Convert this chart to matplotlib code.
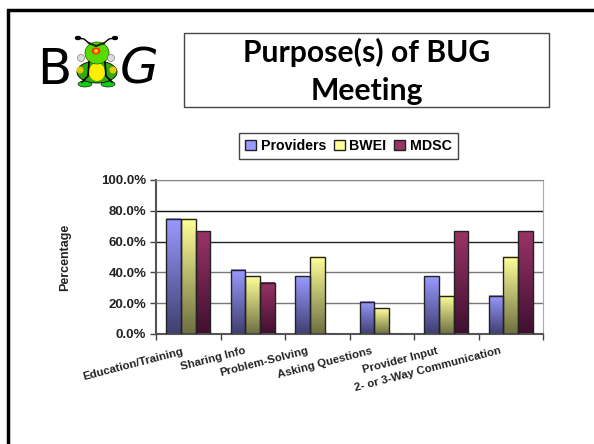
import matplotlib
matplotlib.use('Agg')
import matplotlib.pyplot as plt
import numpy as np
from matplotlib.colors import LinearSegmentedColormap
from matplotlib.patches import Rectangle, Ellipse, Circle

categories = ['Education/Training', 'Sharing Info', 'Problem-Solving', 'Asking Questions',
              'Provider Input', '2- or 3-Way Communication']
providers = [75.0, 41.7, 37.5, 20.8, 37.5, 25.0]
bwei = [75.0, 37.5, 50.0, 16.7, 25.0, 50.0]
mdsc = [66.7, 33.3, 0, 0, 66.7, 66.7]
series_names = ['Providers', 'BWEI', 'MDSC']

W, H = 594, 444
fig = plt.figure(figsize=(W/100, H/100), dpi=100)
plt.rcParams['font.family'] = ['Liberation Sans', 'DejaVu Sans']

# whole-picture axes in pixels, for the slide furniture
bg = fig.add_axes([0, 0, 1, 1])
bg.set_xlim(0, W)
bg.set_ylim(H, 0)
bg.axis('off')
# slide border only shows on the top and left
bg.plot([8, 8, W + 5], [H + 5, 10, 10], color='black', lw=2.5, solid_joinstyle='miter')
bg.add_patch(Rectangle((184, 33), 365, 74, fc='white', ec='#444444', lw=1))
bg.text(367, 52, 'Purpose(s) of BUG', ha='center', va='center', fontsize=21.7,
        fontweight='bold', family=['Lato', 'DejaVu Sans'])
bg.text(367, 91, 'Meeting', ha='center', va='center', fontsize=21.7,
        fontweight='bold', family=['Lato', 'DejaVu Sans'])

# logo letters and the little bug
bg.text(54, 70, 'B', ha='center', va='center', fontsize=36, family='DejaVu Sans')
bg.text(139, 70, 'G', ha='center', va='center', fontsize=36, style='italic', family='DejaVu Sans')
bg.plot([90, 84, 78], [44, 39, 38], color='black', lw=1)
bg.plot([103, 109, 115], [44, 39, 38], color='black', lw=1)
bg.add_patch(Ellipse((78, 38), 5, 3, color='black'))
bg.add_patch(Ellipse((115, 38), 5, 3, color='black'))
bg.add_patch(Ellipse((85, 84), 14, 6, fc='#11cc11', ec='black', lw=0.4))
bg.add_patch(Ellipse((108, 84), 14, 6, fc='#11cc11', ec='black', lw=0.4))
bg.add_patch(Ellipse((97, 72), 40, 22, fc='#33aa11', ec='black', lw=0.6))
bg.add_patch(Circle((80, 70), 3.5, fc='#ddcc00', ec='none'))
bg.add_patch(Circle((113, 70), 3.5, fc='#ddcc00', ec='none'))
bg.add_patch(Ellipse((97, 72), 16, 18, fc='#ffee00', ec='none'))
bg.plot([89, 88, 82], [62, 76, 82], color='black', lw=1.2)
bg.plot([105, 106, 112], [62, 76, 82], color='black', lw=1.2)
bg.add_patch(Ellipse((97, 53), 24, 22, fc='#55dd00', ec='#225500', lw=0.5))
bg.add_patch(Ellipse((96, 51), 9, 7, fc='#ff3300', ec='none'))
bg.add_patch(Circle((96, 51), 2, fc='#ffcc00', ec='none'))
bg.plot([89, 96, 104], [43, 46, 43], color='#222222', lw=1.5)
bg.add_patch(Circle((81, 58), 3.5, fc='#dddddd', ec='#666666', lw=0.4))
bg.add_patch(Circle((111, 58), 3.5, fc='#dddddd', ec='#666666', lw=0.4))

ax = fig.add_axes([156/W, 1 - 334/H, (543-156)/W, (334-180)/H])
ax.patch.set_alpha(0)

colors = [('#9999ff', '#3f3f72'), ('#ffff99', '#6f6f42'), ('#993366', '#3f1030')]
width = 0.225
for i, (vals, (c1, c2)) in enumerate(zip([providers, bwei, mdsc], colors)):
    cmap = LinearSegmentedColormap.from_list('g', [c2, c1])
    x = np.arange(len(categories)) + 0.5 + (i - 1) * width
    bars = ax.bar(x, vals, width, facecolor='none', edgecolor='#222222', linewidth=1, zorder=3)
    for b in bars:
        if b.get_height() <= 0:
            continue
        im = ax.imshow(np.linspace(1, 0, 64).reshape(-1, 1), cmap=cmap, aspect='auto', zorder=2.5,
                       extent=[b.get_x(), b.get_x() + b.get_width(), 0, b.get_height()])
ax.set_xlim(0, len(categories))
ax.set_ylim(0, 100)

ax.set_yticks(np.arange(0, 101, 20))
ax.set_yticklabels(['%.1f%%' % v for v in np.arange(0, 101, 20)], fontsize=9.5, fontweight='bold',
                   color='#222222')
ax.set_xticks(np.arange(len(categories) + 1))
ax.set_xticklabels([])
ax.grid(axis='y', color='black', lw=1, zorder=1)
# the 20 and 40 lines come out softer than the others in the reference
for g, c in zip(ax.get_ygridlines(), ['#555555', '#777777', '#777777', '#222222', '#111111', '#777777']):
    g.set_color(c)
ax.tick_params(axis='both', length=4, width=1, color='#444444', pad=3)
ax.spines['top'].set_color('#888888')
ax.spines['right'].set_color('#aaaaaa')
for s in ['left', 'bottom']:
    ax.spines[s].set_color('#555555')
    ax.spines[s].set_linewidth(1.5)

ax.set_ylabel('Percentage', fontsize=9, fontweight='bold', color='#222222')
ax.yaxis.set_label_coords((71 - 156) / 387, 0.5)

# slanted category labels, anchored at their upper right end
label_ends = [(182, 346), (244, 346), (307, 346), (371, 346), (437, 346), (500, 346)]
for name, (px, py) in zip(categories, label_ends):
    bg.text(px, py, name, rotation=14.5, rotation_mode='anchor', ha='right', va='top',
            fontsize=8.2, fontweight='bold', color='#222222')

# legend box drawn by the library from proxy handles
handles = [Rectangle((0, 0), 1, 1, fc=c[0], ec='#222222') for c in colors]
leg = fig.legend(handles, series_names, ncol=3, loc='center', bbox_to_anchor=(348.5/W, 1 - 146/H),
                 frameon=True, fancybox=False, edgecolor='#444444', framealpha=1,
                 prop={'size': 10.2, 'weight': 'bold'}, handlelength=0.75, handleheight=0.75,
                 handletextpad=0.35, columnspacing=0.55, borderpad=0.4, borderaxespad=0)
leg.get_frame().set_linewidth(1)

fig.savefig('out.png', dpi=100)
